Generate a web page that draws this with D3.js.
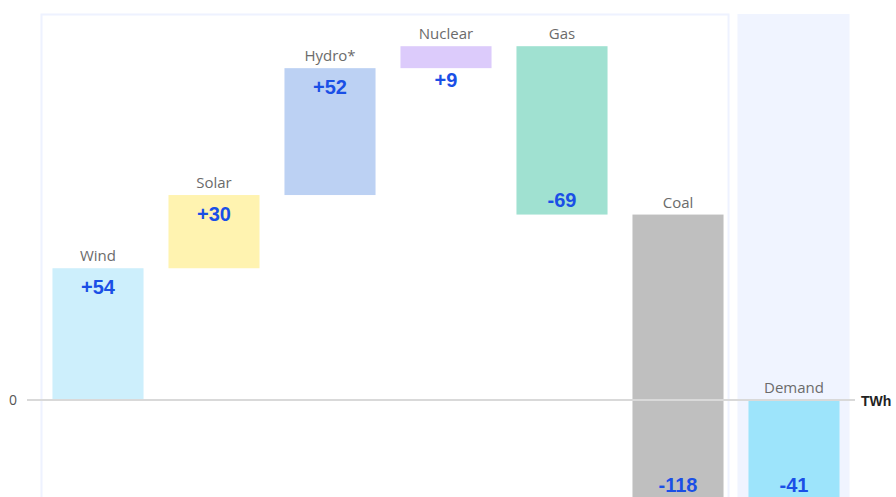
<!DOCTYPE html>
<html>
<head>
<meta charset="utf-8">
<script src="https://cdn.jsdelivr.net/npm/d3@7"></script>
<style>
  body { margin: 0; background: #fff; }
  svg { display: block; }
</style>
</head>
<body>
<script>
// change in generation by source, TWh
const categories = ['Wind', 'Solar', 'Hydro*', 'Nuclear', 'Gas', 'Coal', 'Demand'];
const changes = [54, 30, 52, 9, -69, -118, -41];
const colors = ['#cdeffc', '#fff3b0', '#bcd1f3', '#dccbfb', '#a0e1d1', '#bfbfbf', '#9de4fb'];
const valueLabels = ['+54', '+30', '+52', '+9', '-69', '-118', '-41'];

const width = 896,
    height = 497;

const svg = d3.select('body').append('svg')
    .attr('width', width)
    .attr('height', height);

const x = d3.scaleBand()
    .domain(categories)
    .range([40, 852])
    .paddingInner(0.215)
    .paddingOuter(0.1075);

const y = d3.scaleLinear()
    .domain([-40, 150])
    .range([497.6, 34]);

// waterfall: the last bar (demand) is the net total, starting from zero
let running = 0;
const bars = categories.map((c, i) => {
    let start, end;
    if (c === 'Demand') {
        start = 0; end = changes[i];
    } else {
        start = running; end = running + changes[i];
        running = end;
    }
    return { name: c, value: changes[i], label: valueLabels[i], color: colors[i],
             top: Math.max(start, end), bottom: Math.min(start, end) };
});

/* ------- PANELS -------*/
const bw = x.bandwidth();
svg.append('rect')
    .attr('x', 41.5)
    .attr('y', 14.5)
    .attr('width', x('Coal') + bw + 5 - 41.5)
    .attr('height', height)
    .attr('fill', '#fff')
    .attr('stroke', '#eef2ff')
    .attr('stroke-width', 2);

svg.append('rect')
    .attr('x', x('Demand') - 11)
    .attr('y', 14)
    .attr('width', bw + 21)
    .attr('height', height)
    .attr('fill', '#f0f4ff');

/* ------- BARS -------*/
svg.append('g').selectAll('rect')
    .data(bars)
    .enter().append('rect')
    .attr('x', d => x(d.name))
    .attr('y', d => y(d.top))
    .attr('width', bw)
    .attr('height', d => y(d.bottom) - y(d.top))
    .attr('fill', d => d.color);

/* ------- ZERO LINE -------*/
svg.append('line')
    .attr('x1', 27).attr('x2', 855)
    .attr('y1', y(0)).attr('y2', y(0))
    .attr('stroke', '#d9d9d9')
    .attr('stroke-width', 2);

svg.append('text')
    .attr('x', 17).attr('y', y(0) + 5)
    .attr('text-anchor', 'end')
    .style('font', '14px "Open Sans", sans-serif')
    .attr('fill', '#555')
    .text('0');

svg.append('text')
    .attr('x', 861).attr('y', y(0) + 6)
    .style('font', 'bold 14px "Liberation Sans", Arial, sans-serif')
    .attr('fill', '#222')
    .text('TWh');

/* ------- CATEGORY LABELS -------*/
svg.append('g').selectAll('text')
    .data(bars)
    .enter().append('text')
    .attr('x', d => x(d.name) + bw / 2)
    .attr('y', d => y(d.top) - 7)
    .attr('text-anchor', 'middle')
    .attr('fill', '#6b6b6b')
    .style('font', '15px "Open Sans", sans-serif')
    .text(d => d.name);

/* ------- VALUE LABELS -------*/
svg.append('g').selectAll('text')
    .data(bars)
    .enter().append('text')
    .attr('x', d => x(d.name) + bw / 2)
    .attr('y', d => {
        const h = y(d.bottom) - y(d.top);
        if (d.value > 0) return h < 35 ? y(d.bottom) + 19 : y(d.top) + 26;
        return Math.min(y(d.bottom), height + 3) - 8;
    })
    .attr('text-anchor', 'middle')
    .attr('fill', '#1a4fe6')
    .style('font', 'bold 20px "Liberation Sans", Arial, sans-serif')
    .text(d => d.label);
</script>
</body>
</html>
